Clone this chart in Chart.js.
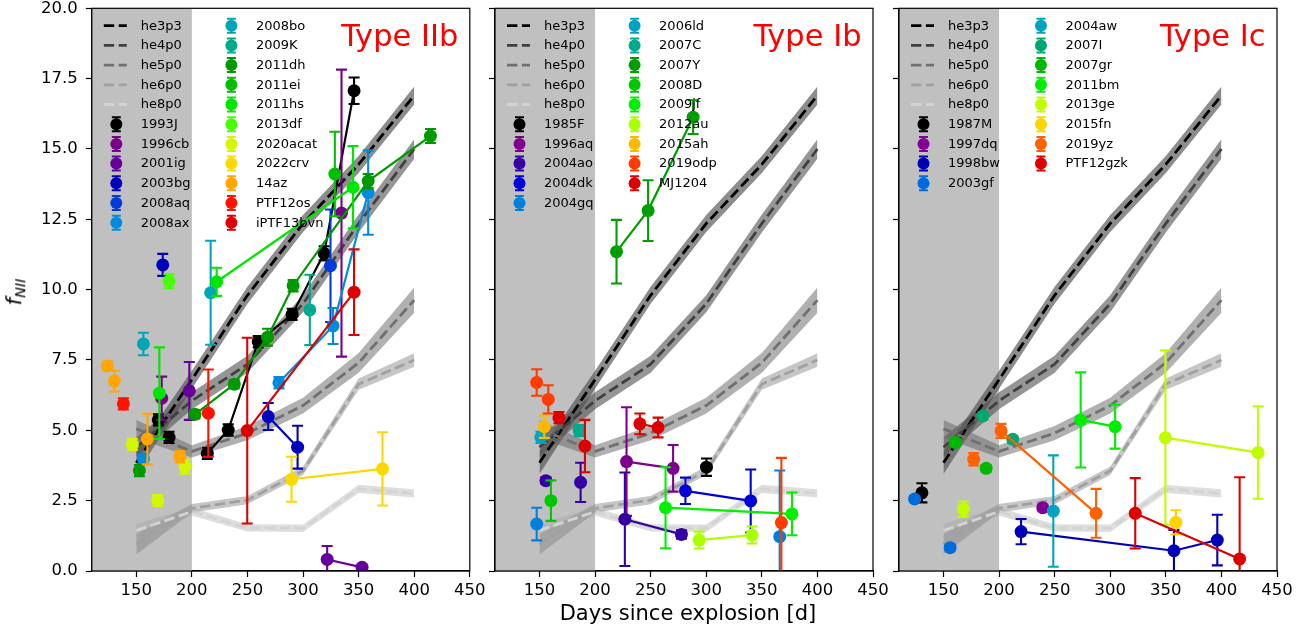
<!DOCTYPE html>
<html><head><meta charset="utf-8">
<script src="https://cdn.jsdelivr.net/npm/chart.js@4/dist/chart.umd.min.js"></script>
<style>
html,body{margin:0;padding:0;background:#fff;}
#wrap{position:relative;width:1312px;height:630px;overflow:hidden;background:#fff;}
canvas{position:absolute;left:0;top:0;}
#ylab{position:absolute;left:16px;top:292px;transform:translate(-50%,-50%) rotate(-90deg);font-family:'DejaVu Sans';font-size:21px;white-space:nowrap;line-height:1;color:#000;}
#ylab sub{font-size:14.5px;vertical-align:-4px;}
</style></head>
<body><div id="wrap">
<canvas id="c1" width="1312" height="630"></canvas>
<canvas id="c2" width="1312" height="630"></canvas>
<canvas id="c3" width="1312" height="630"></canvas>
<div id="ylab"><i>f</i><sub><i>NII</i></sub></div>
</div>
<script>
// ---------------- data ----------------
const xTicks = [150,200,250,300,350,400,450];
const yTicks = [0,2.5,5,7.5,10,12.5,15,17.5,20];

const modelNames = ['he3p3','he4p0','he5p0','he6p0','he8p0'];
const modelDays = [150,200,250,300,350,400];
const he3p3 = [3.85,6.8,9.8,12.35,14.45,16.9];
const he3p3Unc = [0.4,0.32,0.3,0.3,0.3,0.32];
const he4p0 = [4.4,6.05,7.35,9.5,12.35,15.0];
const he4p0Unc = [0.35,0.3,0.3,0.3,0.32,0.35];
const he5p0 = [5.05,4.25,4.9,5.88,7.4,9.63];
const he5p0Unc = [0.32,0.22,0.25,0.28,0.35,0.45];
const he6p0 = [0.95,2.23,2.52,3.56,6.64,7.5];
const he6p0Unc = [0.36,0.15,0.15,0.15,0.2,0.24];
const he8p0 = [1.44,2.11,1.53,1.52,2.92,2.76];
const he8p0Unc = [0.24,0.15,0.13,0.13,0.15,0.15];

// Type IIb
const iibNames = ['1993J','1996cb','2001ig','2003bg','2008aq','2008ax','2008bo','2009K','2011dh','2011ei','2011hs','2013df','2020acat','2022crv','14az','PTF12os','iPTF13bvn'];
const iibDays = [
 [169.8,179.5,213.9,232.7,259.7,290.2,319.0,345.9],
 [172.9,334.6],
 [197.7,321.7,353.1],
 [173.8,268.7,295.1],
 [324.7],
 [156.4,278.3,327.0,358.6],
 [156.4,216.9],
 [306.1],
 [152.8,202.8,238.1,268.1,291.1,358.6,414.6],
 [328.6],
 [170.8,222.3,345.0],
 [179.4],
 [146.5,169.3,193.8],
 [289.7,371.5],
 [124.0,130.3,160.0,189.3],
 [138.4,214.8],
 [249.8,345.9]
];
const iibVals = [
 [5.37,4.75,4.18,5.01,8.15,9.12,11.29,17.07],
 [6.14,12.72],
 [6.40,0.41,0.13],
 [10.88,5.49,4.40],
 [10.85],
 [3.98,6.69,8.71,13.45],
 [8.07,9.89],
 [9.28],
 [3.57,5.57,6.64,8.31,10.14,13.86,15.46],
 [14.11],
 [6.32,10.28,13.64],
 [10.30],
 [4.50,2.50,3.71],
 [3.26,3.63],
 [7.29,6.75,4.69,4.06],
 [5.94,5.61],
 [4.99,9.91]
];
const iibErrs = [
 [0.2,0.2,0.2,0.2,0.2,0.2,0.25,0.47],
 [0.77,5.1],
 [1.03,0.48,0.1],
 [0.39,0.48,0.76],
 [2.0],
 [0.15,0.2,0.64,1.5],
 [0.4,1.85],
 [1.25],
 [0.2,0.15,0.15,0.3,0.2,0.25,0.25],
 [1.5],
 [1.63,0.5,1.46],
 [0.25],
 [0.2,0.2,0.25],
 [0.8,1.3],
 [0.15,0.37,0.9,0.2],
 [0.2,1.55],
 [3.3,1.52]
];

// Type Ib
const ibNames = ['1985F','1996aq','2004ao','2004dk','2004gq','2006ld','2007C','2007Y','2008D','2009jf','2012au','2015ah','2019odp','MJ1204'];
const ibDays = [
 [300.2],
 [228.3,270.2],
 [155.8,187.0,226.8,277.7],
 [281.3,340.0],
 [147.5,366.1],
 [151.3],
 [185.7],
 [219.3,247.7,288.2],
 [160.3],
 [263.4,377.1],
 [293.6,341.2],
 [154.3],
 [147.5,157.9,367.6],
 [167.5,190.9,240.3,256.7]
];
const ibVals = [
 [3.69],
 [3.89,3.65],
 [3.21,3.15,1.84,1.30],
 [2.85,2.49],
 [1.67,1.22],
 [4.75],
 [4.99],
 [11.35,12.81,16.13],
 [2.50],
 [2.25,2.03],
 [1.10,1.28],
 [5.13],
 [6.70,6.10,1.72],
 [5.45,4.44,5.23,5.10]
];
const ibErrs = [
 [0.31],
 [1.93,0.83],
 [0.12,0.7,1.66,0.15],
 [0.47,1.12],
 [0.58,2.35],
 [0.2],
 [0.2],
 [1.13,1.08,0.6],
 [0.72],
 [1.44,0.76],
 [0.3,0.3],
 [0.4],
 [0.47,0.5,2.3],
 [0.2,0.93,0.37,0.35]
];

// Type Ic
const icNames = ['1987M','1997dq','1998bw','2003gf','2004aw','2007I','2007gr','2011bm','2013ge','2015fn','2019yz','PTF12gzk'];
const icDays = [
 [130.6],
 [239.3],
 [219.8,357.3,396.3],
 [124.0,156.0],
 [248.8],
 [185.4,212.3],
 [160.5,188.4],
 [273.4,304.4],
 [168.0,349.6,433.0],
 [359.1],
 [177.2,201.8,287.3],
 [322.5,416.4]
];
const icVals = [
 [2.78],
 [2.25],
 [1.40,0.72,1.10],
 [2.56,0.83],
 [2.13],
 [5.51,4.68],
 [4.57,3.65],
 [5.37,5.13],
 [2.20,4.74,4.21],
 [1.73],
 [3.97,4.98,2.05],
 [2.05,0.43]
];
const icErrs = [
 [0.34],
 [0.1],
 [0.45,0.74,0.9],
 [0.1,0.1],
 [1.98],
 [0.12,0.12],
 [0.12,0.12],
 [1.69,0.78],
 [0.27,3.1,1.64],
 [0.43],
 [0.22,0.25,0.87],
 [1.25,2.9]
];

// ---------------- styles ----------------
const iibColors = ['#000000','#790089','#66009d','#0000bd','#003bdd','#008cdd','#00a6b7','#00aa8c','#009900','#00bf00','#00e600','#46ff00','#d4f600','#f9d900','#ffa600','#ff1300','#dd0000'];
const ibColors = ['#000000','#7d008e','#3400a3','#0000d9','#007fdd','#00a2c1','#00aa8d','#009e00','#00c800','#00f000','#aaff00','#ffb800','#ff3b00','#dd0000'];
const icColors = ['#000000','#820093','#0000b8','#006bdd','#00a2c1','#00a76f','#00b800','#00ec00','#c0fd00','#fad500','#ff6100','#dd0000'];
const modelLineColors = ['#000000','#404040','#707070','#a0a0a0','#d3d3d3'];
const modelBandColors = ['rgba(80,80,80,0.65)','rgba(80,80,80,0.6)','rgba(100,100,100,0.5)','rgba(128,128,128,0.45)','rgba(160,160,160,0.35)'];
const modelMid = [he3p3,he4p0,he5p0,he6p0,he8p0];
const modelUnc = [he3p3Unc,he4p0Unc,he5p0Unc,he6p0Unc,he8p0Unc];
const FONT = '"DejaVu Sans"';
const DASH = [10.4,4.5];
const MR = 6.5;

function makeFig(cfg){
  return {
    id:'fig',
    beforeDatasetsDraw(chart){
      const {ctx, chartArea:a, scales:{x}} = chart;
      const x1 = x.getPixelForValue(200);
      ctx.save(); ctx.fillStyle='#c0c0c0';
      ctx.fillRect(a.left, a.top, x1-a.left, a.bottom-a.top);
      ctx.restore();
    },
    beforeDatasetDraw(chart, args){
      const ds = chart.data.datasets[args.index];
      if(!ds.errs) return;
      const {ctx, chartArea:a, scales:{x,y}} = chart;
      ctx.save();
      ctx.beginPath(); ctx.rect(a.left,a.top,a.right-a.left,a.bottom-a.top); ctx.clip();
      ctx.strokeStyle = ds.borderColor; ctx.lineWidth = 2.1; ctx.setLineDash([]);
      ds.data.forEach((p,i)=>{
        const px = x.getPixelForValue(p.x);
        const y0 = y.getPixelForValue(p.y - ds.errs[i]);
        const y1 = y.getPixelForValue(p.y + ds.errs[i]);
        ctx.beginPath();
        ctx.moveTo(px,y0); ctx.lineTo(px,y1);
        ctx.moveTo(px-5.5,y0); ctx.lineTo(px+5.5,y0);
        ctx.moveTo(px-5.5,y1); ctx.lineTo(px+5.5,y1);
        ctx.stroke();
      });
      ctx.restore();
    },
    afterDraw(chart){
      const {ctx, chartArea:a} = chart;
      ctx.save();
      ctx.strokeStyle='#000'; ctx.lineWidth=1.2; ctx.setLineDash([]);
      ctx.strokeRect(a.left, a.top, a.right-a.left, a.bottom-a.top);
      // title
      ctx.fillStyle='#ff0000'; ctx.font='30.5px '+FONT;
      ctx.textAlign='right'; ctx.textBaseline='alphabetic';
      ctx.fillText(cfg.title, a.right-11.5, 46);
      // x label
      if(cfg.xlabel){
        ctx.fillStyle='#000'; ctx.font='21px '+FONT; ctx.textAlign='center';
        ctx.fillText(cfg.xlabel, 688, 620);
      }
      // legend
      const entries = cfg.entries;
      ctx.font='13px '+FONT; ctx.textAlign='left'; ctx.textBaseline='middle';
      const n1 = Math.ceil(entries.length/2);
      const col1 = entries.slice(0,n1), col2 = entries.slice(n1);
      const maxW = Math.max(...col1.map(e=>ctx.measureText(e.label).width));
      const h1 = a.left+12, t1 = a.left+49;
      const h2 = t1+maxW+28.5, t2 = h2+37;
      const y0 = a.top+17.4, dy = 19.7;
      [[col1,h1,t1],[col2,h2,t2]].forEach(([col,hx,tx])=>{
        col.forEach((e,r)=>{
          const yy = y0 + r*dy;
          if(e.type==='model'){
            ctx.strokeStyle=e.color; ctx.lineWidth=2.8; ctx.setLineDash(DASH);
            ctx.beginPath(); ctx.moveTo(hx,yy); ctx.lineTo(hx+23,yy); ctx.stroke();
            ctx.setLineDash([]);
          } else {
            const mx = hx+12.5;
            ctx.strokeStyle=e.color; ctx.lineWidth=2; ctx.setLineDash([]);
            ctx.beginPath();
            ctx.moveTo(mx,yy-7); ctx.lineTo(mx,yy+7);
            ctx.moveTo(mx-4.5,yy-7); ctx.lineTo(mx+4.5,yy-7);
            ctx.moveTo(mx-4.5,yy+7); ctx.lineTo(mx+4.5,yy+7);
            ctx.stroke();
            ctx.fillStyle=e.color; ctx.beginPath(); ctx.arc(mx,yy,6,0,Math.PI*2); ctx.fill();
          }
          ctx.fillStyle='#000';
          ctx.fillText(e.label, tx, yy+0.5);
        });
      });
      ctx.restore();
    }
  };
}

function axisCommon(){
  return {
    grid:{display:true, drawOnChartArea:false, drawTicks:true, tickLength:6, tickWidth:1.2, tickColor:'#000'},
    border:{display:true, color:'#000', width:1.2}
  };
}

function makeChart(id, padLeft, yWidth, padRight, showY, names, days, vals, errs, colors, title, xlabel){
  const datasets = [];
  names.forEach((n,i)=>{
    const c = colors[i];
    datasets.push({
      label:n, data: days[i].map((d,j)=>({x:d, y:vals[i][j]})), errs: errs[i],
      borderColor:c, backgroundColor:c, borderWidth:2.2, showLine:true, fill:false, tension:0,
      pointRadius:MR, pointHoverRadius:MR, pointBackgroundColor:c, pointBorderColor:c, pointBorderWidth:0,
      order:-i,
      segment:{borderColor: s => (s.p0.parsed.x < 200 ? 'rgba(0,0,0,0)' : c)}
    });
  });
  modelNames.forEach((m,k)=>{
    const lowIdx = datasets.length;
    datasets.push({label:m+' low', data: modelDays.map((d,j)=>({x:d, y:modelMid[k][j]-modelUnc[k][j]})),
      borderWidth:0, borderColor:'rgba(0,0,0,0)', pointRadius:0, showLine:true, fill:false, order:300-k});
    datasets.push({label:m+' high', data: modelDays.map((d,j)=>({x:d, y:modelMid[k][j]+modelUnc[k][j]})),
      borderWidth:0, borderColor:'rgba(0,0,0,0)', pointRadius:0, showLine:true, fill:lowIdx,
      backgroundColor:modelBandColors[k], order:300-k});
    datasets.push({label:m, data: modelDays.map((d,j)=>({x:d, y:modelMid[k][j]})),
      borderWidth:2.8, borderColor:modelLineColors[k], borderDash:DASH, pointRadius:0, showLine:true, fill:false, order:200-k});
  });
  const entries = modelNames.map((m,k)=>({type:'model', label:m, color:modelLineColors[k]}))
    .concat(names.map((n,i)=>({type:'sn', label:n, color:colors[i]})));
  const ax = axisCommon(), ay = axisCommon();
  return new Chart(document.getElementById(id), {
    type:'line',
    data:{datasets},
    options:{
      responsive:false, animation:false, devicePixelRatio:1, events:[],
      layout:{padding:{left:padLeft, right:padRight, top:8.3, bottom:0}},
      plugins:{legend:{display:false}, tooltip:{enabled:false}},
      scales:{
        x:{type:'linear', min:110, max:450,
          afterBuildTicks: s => { s.ticks = xTicks.map(v=>({value:v})); },
          afterFit: s => { s.height = 59; s.paddingLeft = 0; s.paddingRight = 0; },
          ticks:{display:true, color:'#000', font:{family:'DejaVu Sans', size:16.5}, padding:4, maxRotation:0, minRotation:0, autoSkip:false, callback: v => String(v)},
          grid:ax.grid, border:ax.border},
        y:{type:'linear', min:0, max:20,
          afterBuildTicks: s => { s.ticks = yTicks.map(v=>({value:v})); },
          afterFit: s => { s.width = yWidth; s.paddingTop = 0; s.paddingBottom = 0; },
          ticks:{display:showY, color:'#000', font:{family:'DejaVu Sans', size:16.5}, padding:8, autoSkip:false, callback: v => Number(v).toFixed(1)},
          grid:ay.grid, border:ay.border}
      }
    },
    plugins:[makeFig({title, xlabel, entries})]
  });
}

makeChart('c1', 0, 91.8, 1312-469.8, true, iibNames, iibDays, iibVals, iibErrs, iibColors, 'Type IIb', null);
makeChart('c2', 480, 15, 1312-873, false, ibNames, ibDays, ibVals, ibErrs, ibColors, 'Type Ib', 'Days since explosion [d]');
makeChart('c3', 880, 19, 35, false, icNames, icDays, icVals, icErrs, icColors, 'Type Ic', null);
</script>
</body></html>
